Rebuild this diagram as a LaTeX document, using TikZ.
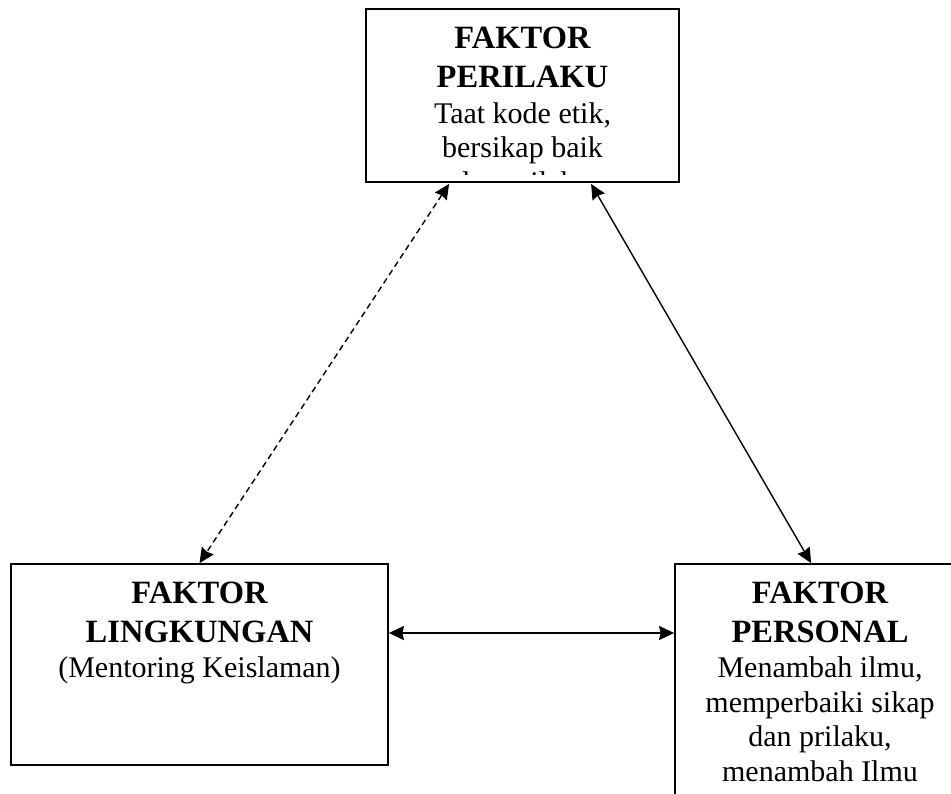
\documentclass[tikz,border=0pt]{standalone}
\usepackage{fontspec}
\setmainfont{Liberation Serif}
\usetikzlibrary{arrows.meta}
\begin{document}
\begin{tikzpicture}[x=1pt,y=-1pt,
  box/.style={draw, line width=1.8pt, inner sep=0pt},
  hd/.style={anchor=base, inner sep=0pt, font=\fontsize{32.5}{39}\selectfont\bfseries},
  tx/.style={anchor=base, inner sep=0pt, font=\fontsize{30}{35}\selectfont},
  conn/.style={line width=1.4pt, arrows={Stealth[length=15pt,width=14pt,inset=1.5pt]-Stealth[length=15pt,width=14pt,inset=1.5pt]}},
  dashconn/.style={conn, dash pattern=on 6pt off 4pt}]
\useasboundingbox (0,0) rectangle (951,793);
\clip (0,0) rectangle (951,793);
\fill[white] (0,0) rectangle (951,793);
% boxes
\node[box, minimum width=313pt, minimum height=173pt] (top) at (522.5,95.5) {};
\node[box, minimum width=377pt, minimum height=201pt] (lbox) at (199.5,664.5) {};
\node[box, minimum width=290pt, minimum height=256pt] (rbox) at (820,692) {};
% top text (last line cut off inside the box)
\begin{scope}
\clip ([xshift=1pt,yshift=8pt]top.south west) rectangle ([xshift=-1pt,yshift=-1pt]top.north east);
\node[hd] (t1) at (522.5,48) {FAKTOR};
\node[hd] (t2) at (522.5,87) {PERILAKU};
\node[tx] (t3) at (522.5,123) {Taat kode etik,};
\node[tx] (t4) at (522.5,157) {bersikap baik};
\node[tx] (t5) at (522.5,192.5) {dan prilaku};
\end{scope}
% left text
\node[hd] (l1) at (199.5,603) {FAKTOR};
\node[hd] (l2) at (199.5,642) {LINGKUNGAN};
\node[tx] (l3) at (199.5,677) {(Mentoring Keislaman)};
% right text
\node[hd] (r1) at (820,603) {FAKTOR};
\node[hd] (r2) at (820,642) {PERSONAL};
\node[tx] (r3) at (820,677) {Menambah ilmu,};
\node[tx] (r4) at (820,712) {memperbaiki sikap};
\node[tx] (r5) at (820,746.5) {dan prilaku,};
\node[tx] (r6) at (820,781) {menambah Ilmu};
% connectors
\coordinate (dA) at ([xshift=84pt,yshift=-1pt]top.south west);
\coordinate (sA) at ([xshift=226pt,yshift=-1pt]top.south west);
\coordinate (sB) at ([xshift=137pt]rbox.north west);
\coordinate (hA) at ([yshift=31.5pt]lbox.east);
\coordinate (hB) at (hA -| rbox.west);
\draw[dashconn] (dA) -- (lbox.north);
\draw[conn] (sA) -- (sB);
\draw[conn] (hA) -- (hB);
\end{tikzpicture}
\end{document}
